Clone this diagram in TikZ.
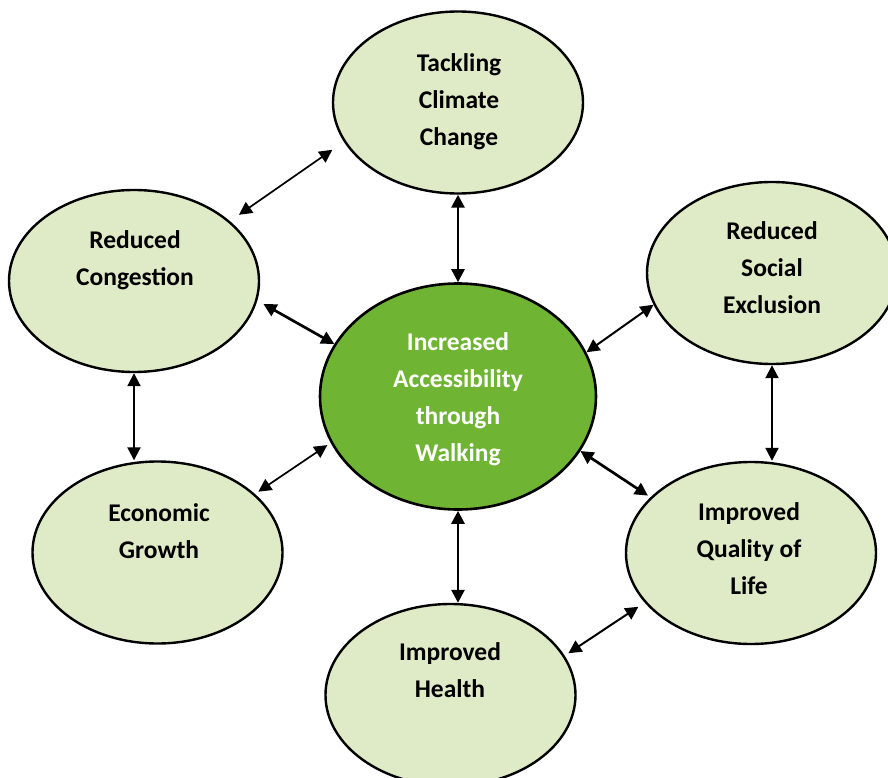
\documentclass[tikz,border=0pt]{standalone}
\usepackage{fontspec}
\setmainfont{Carlito}
\usetikzlibrary{arrows.meta,shapes.geometric}
\definecolor{paleleaf}{HTML}{DFEAC6}
\definecolor{leaf}{HTML}{70B434}
\begin{document}
\begin{tikzpicture}[x=1pt,y=-1pt,
  bubble/.style={ellipse,draw=black,line width=2.4pt,fill=paleleaf,inner sep=0pt,
    minimum width=250pt,minimum height=182pt},
  hub/.style={ellipse,draw=black,line width=2.6pt,fill=leaf,inner sep=0pt,
    minimum width=276pt,minimum height=226pt},
  caption/.style={align=center,font=\bfseries\fontsize{25.5}{37}\selectfont,inner sep=0pt},
  link/.style={line width=1.7pt,{Triangle[length=13pt,width=13pt]}-{Triangle[length=13pt,width=13pt]}},
  thicklink/.style={link,line width=2.7pt}
]
\useasboundingbox (0,0) rectangle (888,778);

% outcome bubbles
\node[bubble] (tack) at (458,102.5) {};
\node[bubble] (cong) at (134,281) {};
\node[bubble] (soc)  at (772,273) {};
\node[bubble] (econ) at (157.5,552.5) {};
\node[bubble] (qol)  at (751,553) {};
\node[bubble] (hlth) at (450.5,695) {};
% central hub
\node[hub] (ctr) at (458,396.5) {};

% captions
\node[caption] (tackt) at (459,102) {Tackling\\Climate\\Change};
\node[caption] (congt) at (135,260) {Reduced\\Congestion};
\node[caption] (soct)  at (772,268) {Reduced\\Social\\Exclusion};
\node[caption] (econt) at (159,531) {Economic\\Growth};
\node[caption] (qolt)  at (749,549) {Improved\\Quality of\\Life};
\node[caption] (hltht) at (450,670) {Improved\\Health};
\node[caption,text=white] (ctrt) at (458,399) {Increased\\Accessibility\\through\\Walking};

% connectors
\draw[link,shorten <=14pt,shorten >=11pt] (tack.199) -- (cong.32);
\draw[thicklink] (tack.south) -- (tack.south |- ctr.north);
\draw[thicklink,shorten <=7pt] (cong.351.7) -- (ctr.157.8);
\draw[link,line width=2pt] (soc.195.2) -- (ctr.19.7);
\draw[link,line width=2pt] (cong.south) -- (cong.south |- econ.north);
\draw[link,line width=2pt] (soc.south) -- (soc.south |- qol.north);
\draw[link,shorten <=4pt,shorten >=4pt] (econ.31.7) -- (ctr.200.1);
\draw[thicklink,shorten >=3pt] (ctr.336.4) -- (qol.151.5);
\draw[thicklink] (ctr.south) -- (ctr.south |- hlth.north);
\draw[link,line width=2pt,shorten <=4.5pt,shorten >=7.5pt] (hlth.19.2) -- (qol.205.9);
\end{tikzpicture}
\end{document}
